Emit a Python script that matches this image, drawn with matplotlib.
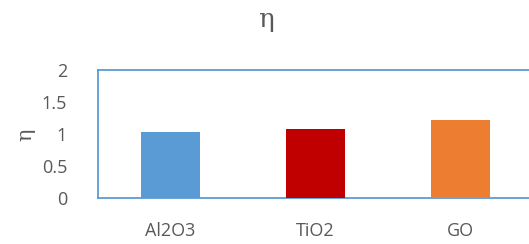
import matplotlib
matplotlib.use("Agg")
import matplotlib.pyplot as plt

categories = ["Al2O3", "TiO2", "GO"]
values = [1.04, 1.08, 1.22]
colors = ["#5B9BD5", "#C00000", "#ED7D31"]
yticks = [0, 0.5, 1, 1.5, 2]
ytick_labels = ["0", "0.5", "1", "1.5", "2"]

plt.rcParams['font.family'] = ['Open Sans', 'DejaVu Sans']
gray = "#595959"

fig = plt.figure(figsize=(5.29, 2.44), dpi=100)
ax = fig.add_axes([0.1847, 0.1873, 1.0076 - 0.1847, 0.7131 - 0.1873])

x = range(len(categories))
ax.bar(x, values, width=0.405, color=colors, zorder=3)

ax.set_xlim(-0.5, 2.5)
ax.set_ylim(0, 2)
ax.set_xticks(list(x))
ax.set_xticklabels(categories)
ax.set_yticks(yticks)
ax.set_yticklabels(ytick_labels)
ax.tick_params(length=0, labelsize=13, colors=gray)
ax.tick_params(axis='y', pad=22)
ax.tick_params(axis='x', pad=17)

for s in ax.spines.values():
    s.set_color("#5B9BD5")
    s.set_linewidth(1.3)

# eta symbols drawn in a serif face like the original
fig.text(26 / 529, 1 - 135 / 244, "η", rotation=90, ha="center", va="center",
         fontsize=15, color=gray, family="DejaVu Serif")
fig.text(266 / 529, 1 - 20 / 244, "η", ha="center", va="center",
         fontsize=19, color=gray, family="DejaVu Serif")

fig.savefig("out.png", dpi=100)
